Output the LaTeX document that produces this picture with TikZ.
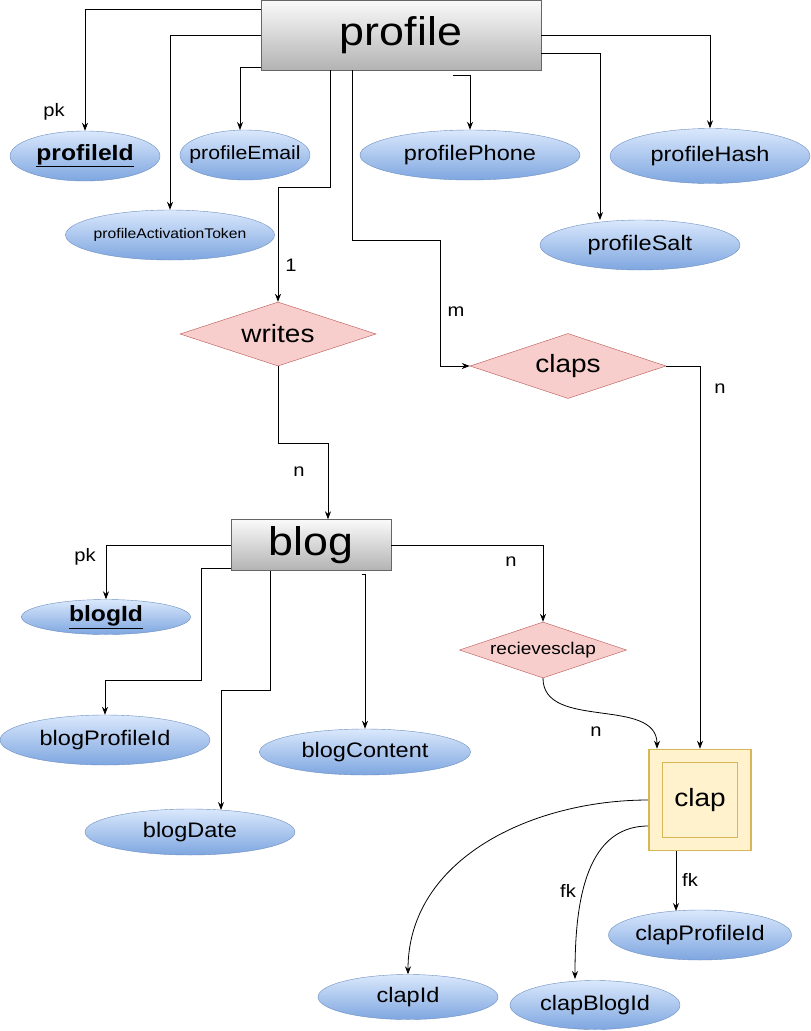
\documentclass[tikz,border=0pt]{standalone}
\usepackage{fontspec}
\setmainfont[FakeStretch=1.12]{Liberation Sans}
\usetikzlibrary{shapes.geometric,arrows.meta,positioning}
\definecolor{erBlueTop}{HTML}{DAE8FC}
\definecolor{erBlueBot}{HTML}{7EA6E0}
\definecolor{erBlueLine}{HTML}{6C8EBF}
\definecolor{erRed}{HTML}{F8CECC}
\definecolor{erRedLine}{HTML}{B85450}
\definecolor{erGrayTop}{HTML}{FAFAFA}
\definecolor{erGrayBot}{HTML}{B3B3B3}
\definecolor{erGrayLine}{HTML}{666666}
\definecolor{erYellow}{HTML}{FFF2CC}
\definecolor{erYellowLine}{HTML}{D6B656}
\tikzset{
  entity/.style={rectangle,draw=erGrayLine,top color=erGrayTop,bottom color=erGrayBot,
    inner sep=0pt,font=\fontsize{40}{44}\selectfont},
  attr/.style={ellipse,draw=erBlueLine,top color=erBlueTop,bottom color=erBlueBot,
    inner sep=0pt,font=\fontsize{21}{25}\selectfont},
  keyattr/.style={attr,font=\fontsize{22}{26}\selectfont\bfseries},
  rel/.style={diamond,shape aspect=3,draw=erRedLine,fill=erRed,inner sep=0pt,
    font=\fontsize{25}{29}\selectfont},
  conn/.style={draw=black,line width=0.8pt,-{Stealth[length=8pt,width=6pt]}},
  lbl/.style={inner sep=0pt,font=\fontsize{18}{22}\selectfont}
}
\begin{document}
\begin{tikzpicture}[x=1pt,y=-1pt]
  \useasboundingbox (0,0) rectangle (811,1031);
  % entities
  \node[entity,minimum width=280,minimum height=70] (profile) at (401,35) {profile};
  \node[entity,minimum width=160,minimum height=51] (blog) at (311,545) {blog};
  \node[rectangle,draw=erYellowLine,fill=erYellow,line width=1.6pt,
    minimum width=102,minimum height=101] (clap) at (700,800) {};
  \node[rectangle,draw=erYellowLine,line width=1.6pt,minimum width=75,minimum height=75,
    font=\fontsize{25}{29}\selectfont] (clapin) at (clap.center) {clap};
  % relations
  \node[rel,minimum width=196,minimum height=64] (writes) at (278,334) {writes};
  \node[rel,minimum width=196,minimum height=65] (claps) at (568,366) {claps};
  \node[rel,minimum width=167,minimum height=56,font=\fontsize{17}{20}\selectfont]
    (recv) at (543,650) {recievesclap};
  % attributes of profile
  \node[keyattr,minimum width=150,minimum height=50] (profileId) at (85,156) {\underline{profileId}};
  \node[attr,minimum width=130,minimum height=50,inner xsep=-10pt,font=\fontsize{19}{23}\selectfont]
    (profileEmail) at (245,155) {profileEmail};
  \node[attr,minimum width=220,minimum height=50] (profilePhone) at (470,155) {profilePhone};
  \node[attr,minimum width=200,minimum height=55] (profileHash) at (710,156) {profileHash};
  \node[attr,minimum width=209,minimum height=50,inner xsep=-3pt,font=\fontsize{14}{17}\selectfont]
    (profileToken) at (170,235) {profileActivationToken};
  \node[attr,minimum width=200,minimum height=50] (profileSalt) at (640,245) {profileSalt};
  % attributes of blog
  \node[keyattr,minimum width=169,minimum height=35] (blogId) at (106,617) {\underline{blogId}};
  \node[attr,minimum width=210,minimum height=50] (blogProfileId) at (105,740) {blogProfileId};
  \node[attr,minimum width=210,minimum height=46] (blogDate) at (190,832) {blogDate};
  \node[attr,minimum width=211,minimum height=46] (blogContent) at (365,752) {blogContent};
  % attributes of clap
  \node[attr,minimum width=180,minimum height=50] (clapProfileId) at (700,935) {clapProfileId};
  \node[attr,minimum width=180,minimum height=45] (clapId) at (408,997) {clapId};
  \node[attr,minimum width=170,minimum height=49] (clapBlogId) at (595,1005) {clapBlogId};
  % loose ends
  \coordinate (phoneStub) at (453,75);
  \coordinate (contentStub) at (362,574);
  % profile connectors
  \draw[conn] (profile.west |- 0,9) -| (profileId.north);
  \draw[conn] (profile.west |- 0,35) -| (profileToken.north);
  \draw[conn] (profile.west |- 0,67) -| (240,130);
  \draw[conn] (phoneStub) -| (profilePhone.north);
  \draw[conn] (profile.east |- 0,35) -| (profileHash.north);
  \draw[conn] (profile.east |- 0,53) -| (600,220);
  \draw[conn] (profile.south -| 330,0) |- (278,187) -- (writes.north);
  \draw[conn] (profile.south -| 352,0) |- (440,240) |- (claps.west);
  \draw[conn] (claps.east) -| (clap.north);
  \draw[conn] (writes.south) |- (328,443) -- (blog.north -| 328,0);
  % blog connectors
  \draw[conn] (blog.west) -| (blogId.north);
  \draw[conn] (blog.west |- 0,568) -| (201,680) -| (blogProfileId.north);
  \draw[conn] (blog.south -| 270,0) |- (221,690) -- (221,810);
  \draw[conn] (contentStub) -| (blogContent.north);
  \draw[conn] (blog.east) -| (recv.north);
  \draw[conn] (recv.south) to[out=-90,in=90] (clap.north -| 657,0);
  % clap connectors
  \draw[conn] (clap.west) to[out=180,in=90] (clapId.north);
  \draw[conn] (clap.west |- 0,826) to[out=180,in=90] (575,979);
  \draw[conn] (clap.south -| 676,0) -- (676,911);
  % labels
  \node[lbl] (pkProfile) at (54,112) {pk};
  \node[lbl] (oneWrites) at (291,265) {1};
  \node[lbl] (mClaps) at (456,312) {m};
  \node[lbl] (nClaps) at (720,389) {n};
  \node[lbl] (nWrites) at (299,472) {n};
  \node[lbl] (pkBlog) at (85,557) {pk};
  \node[lbl] (nRecv) at (511,562) {n};
  \node[lbl] (nClap) at (596,732) {n};
  \node[lbl] (fkBlog) at (568,891) {fk};
  \node[lbl] (fkProfile) at (690,880) {fk};
\end{tikzpicture}
\end{document}
